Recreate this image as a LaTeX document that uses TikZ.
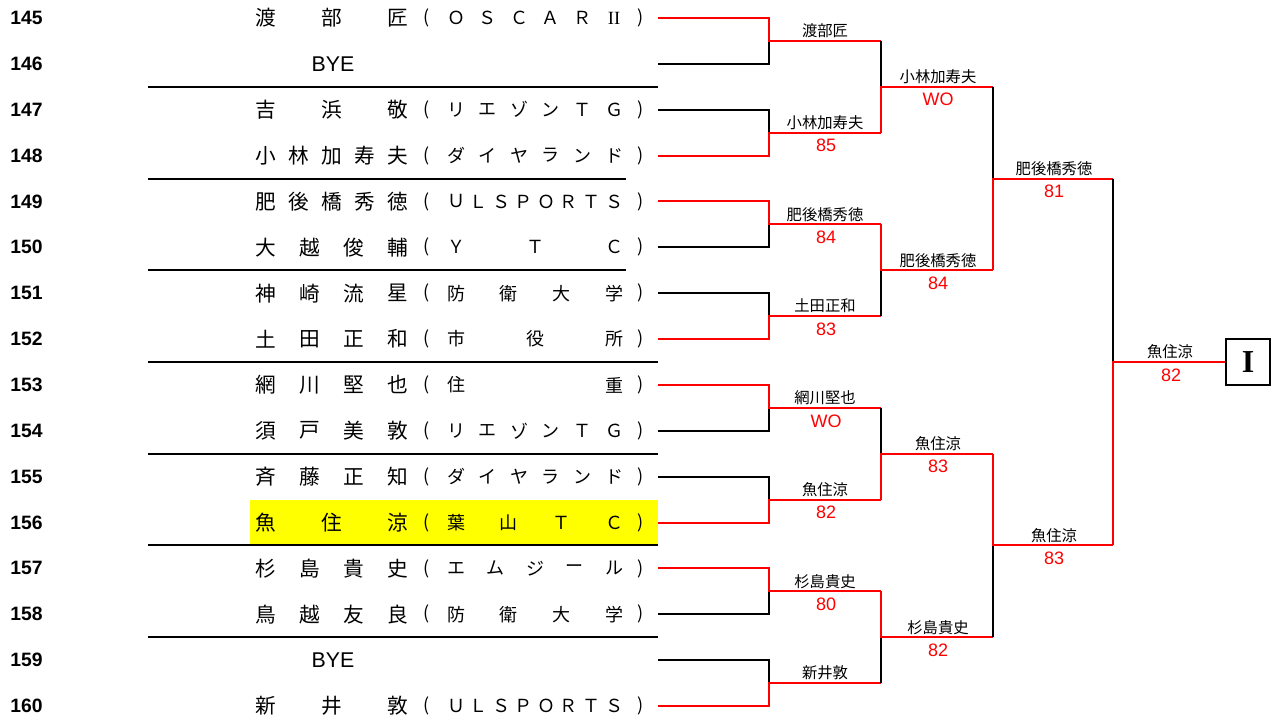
\documentclass[tikz,border=0pt]{standalone}
\usepackage{fontspec}
\setmainfont{Liberation Sans}
\newfontfamily\jp{Noto Sans CJK JP}
\newfontfamily\sr{Liberation Serif}
\definecolor{wred}{RGB}{255,0,0}
\definecolor{hyel}{RGB}{255,255,0}
\tikzset{
  nm/.style={font=\jp\fontsize{15.5}{16}\selectfont, inner sep=0pt},
  cl/.style={font=\jp\fontsize{13.5}{14}\selectfont, inner sep=0pt},
  num/.style={font=\bfseries\fontsize{14.5}{15}\selectfont, anchor=west, inner sep=0pt},
  wn/.style={font=\jp\fontsize{11.5}{12}\selectfont, inner sep=0pt},
  sc/.style={font=\fontsize{13.5}{14}\selectfont, text=wred, inner sep=0pt},
  byest/.style={font=\fontsize{16}{16}\selectfont, inner sep=0pt},
  sep/.style={line width=1.5pt, black},
  lose/.style={line width=1.5pt, black},
  win/.style={line width=1.5pt, wred},
  boxst/.style={draw, line width=1.5pt, minimum width=33pt, minimum height=35pt, inner sep=0pt, font=\sr\bfseries\fontsize{24}{24}\selectfont}
}
\newcommand\bkname[3]{%
  \foreach \c [count=\i from 0] in {#3} {\node[nm] (nm#1-\i) at ({266+132*\i/(#2-1)}, {18+45.867*#1}) {\c};}}
\newcommand\bkclub[3]{%
  \node[cl] (lp#1) at (427, {18+45.867*#1}) {(};
  \node[cl] (rp#1) at (641, {18+45.867*#1}) {)};
  \foreach \c [count=\i from 0] in {#3} {\node[cl] (cl#1-\i) at ({456+158*\i/(#2-1)}, {18+45.867*#1}) {\c};}}
\begin{document}
\begin{tikzpicture}[x=0.75pt,y=-0.75pt]
\fill[white] (0,0) rectangle (1276,727);
\useasboundingbox (0,0) rectangle (1276,727);
% highlight
\fill[hyel] (250,499.5) rectangle (658,545.5);
% row numbers
\foreach \r in {0,...,15} {
  \pgfmathtruncatemacro\lab{145+\r}
  \node[num] (no\r) at (10, {18+45.867*\r}) {\lab};
}
% names and clubs
\bkname{0}{3}{渡,部,匠}        \bkclub{0}{6}{Ｏ,Ｓ,Ｃ,Ａ,Ｒ,{\sr\fontsize{14}{14}\selectfont II}}
\node[byest] (bye1) at (333, {18+45.867*1}) {BYE};
\bkname{2}{3}{吉,浜,敬}        \bkclub{2}{6}{リ,エ,ゾ,ン,Ｔ,Ｇ}
\bkname{3}{5}{小,林,加,寿,夫}  \bkclub{3}{6}{ダ,イ,ヤ,ラ,ン,ド}
\bkname{4}{5}{肥,後,橋,秀,徳}  \bkclub{4}{8}{Ｕ,Ｌ,Ｓ,Ｐ,Ｏ,Ｒ,Ｔ,Ｓ}
\bkname{5}{4}{大,越,俊,輔}     \bkclub{5}{3}{Ｙ,Ｔ,Ｃ}
\bkname{6}{4}{神,崎,流,星}     \bkclub{6}{4}{防,衛,大,学}
\bkname{7}{4}{土,田,正,和}     \bkclub{7}{3}{市,役,所}
\bkname{8}{4}{網,川,堅,也}     \bkclub{8}{2}{住,重}
\bkname{9}{4}{須,戸,美,敦}     \bkclub{9}{6}{リ,エ,ゾ,ン,Ｔ,Ｇ}
\bkname{10}{4}{斉,藤,正,知}    \bkclub{10}{6}{ダ,イ,ヤ,ラ,ン,ド}
\bkname{11}{3}{魚,住,涼}       \bkclub{11}{4}{葉,山,Ｔ,Ｃ}
\bkname{12}{4}{杉,島,貴,史}    \bkclub{12}{5}{エ,ム,ジ,ー,ル}
\bkname{13}{4}{鳥,越,友,良}    \bkclub{13}{4}{防,衛,大,学}
\node[byest] (bye14) at (333, {18+45.867*14}) {BYE};
\bkname{15}{3}{新,井,敦}       \bkclub{15}{8}{Ｕ,Ｌ,Ｓ,Ｐ,Ｏ,Ｒ,Ｔ,Ｓ}
% separators
\foreach \k/\xe in {1.5/658,3.5/626,5.5/626,7.5/658,9.5/658,11.5/658,13.5/658} {
  \draw[sep] (148,{18+45.867*\k}) -- (\xe,{18+45.867*\k});
}
% bracket coordinates
\foreach \r in {0,...,15} {
  \coordinate (s\r) at (658, {18+45.867*\r});
  \coordinate (e\r) at (769, {18+45.867*\r});
}
\foreach \k in {0,...,7} {
  \coordinate (j1-\k) at (769, {18+45.867*(2*\k+0.5)});
  \coordinate (o1-\k) at (881, {18+45.867*(2*\k+0.5)});
}
\foreach \k in {0,...,3} {
  \coordinate (j2-\k) at (881, {18+45.867*(4*\k+1.5)});
  \coordinate (o2-\k) at (993, {18+45.867*(4*\k+1.5)});
}
\foreach \k in {0,1} {
  \coordinate (j3-\k) at (993, {18+45.867*(8*\k+3.5)});
  \coordinate (o3-\k) at (1113, {18+45.867*(8*\k+3.5)});
}
\coordinate (j4) at (1113, {18+45.867*7.5});
\node[boxst] (box) at (1248, {18+45.867*7.5}) {I};
% round 1
\foreach \k/\w in {0/0,1/1,2/0,3/1,4/0,5/1,6/0,7/1} {
  \pgfmathtruncatemacro\wi{2*\k+\w}
  \pgfmathtruncatemacro\li{2*\k+1-\w}
  \draw[lose] (s\li) -- (e\li) -- (j1-\k);
  \draw[win] (s\wi) -- (e\wi) -- (j1-\k) -- (o1-\k);
}
% round 2
\foreach \k/\w in {0/1,1/0,2/1,3/0} {
  \pgfmathtruncatemacro\wi{2*\k+\w}
  \pgfmathtruncatemacro\li{2*\k+1-\w}
  \draw[lose] (o1-\li) -- (j2-\k);
  \draw[win] (o1-\wi) -- (j2-\k) -- (o2-\k);
}
% round 3
\foreach \k/\w in {0/1,1/0} {
  \pgfmathtruncatemacro\wi{2*\k+\w}
  \pgfmathtruncatemacro\li{2*\k+1-\w}
  \draw[lose] (o2-\li) -- (j3-\k);
  \draw[win] (o2-\wi) -- (j3-\k) -- (o3-\k);
}
% final
\draw[lose] (o3-0) -- (j4);
\draw[win] (o3-1) -- (j4) -- (box.west);
% labels
\foreach \k/\n/\s in {0/渡部匠/,1/小林加寿夫/85,2/肥後橋秀徳/84,3/土田正和/83,4/網川堅也/WO,5/魚住涼/82,6/杉島貴史/80,7/新井敦/} {
  \node[wn] (w1-\k) at (825, {18+45.867*(2*\k+0.5)-10}) {\n};
  \node[sc] (c1-\k) at (826, {18+45.867*(2*\k+0.5)+13}) {\s};
}
\foreach \k/\n/\s in {0/小林加寿夫/WO,1/肥後橋秀徳/84,2/魚住涼/83,3/杉島貴史/82} {
  \node[wn] (w2-\k) at (938, {18+45.867*(4*\k+1.5)-10}) {\n};
  \node[sc] (c2-\k) at (938, {18+45.867*(4*\k+1.5)+13}) {\s};
}
\foreach \k/\n/\s in {0/肥後橋秀徳/81,1/魚住涼/83} {
  \node[wn] (w3-\k) at (1054, {18+45.867*(8*\k+3.5)-10}) {\n};
  \node[sc] (c3-\k) at (1054, {18+45.867*(8*\k+3.5)+13}) {\s};
}
\node[wn] (w4) at (1170, {18+45.867*7.5-10}) {魚住涼};
\node[sc] (c4) at (1171, {18+45.867*7.5+13}) {82};
\end{tikzpicture}
\end{document}
